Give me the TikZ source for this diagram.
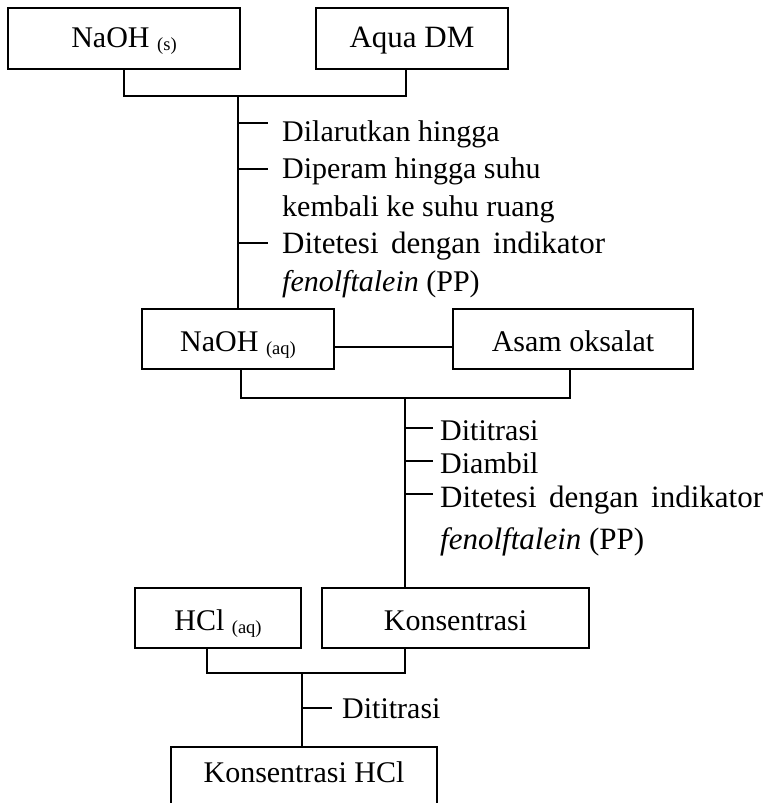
\documentclass[tikz,border=0pt]{standalone}
\usepackage{fontspec}
\setmainfont{Liberation Serif}
\newcommand\physst[1]{\raisebox{-3pt}{\fontsize{18.5}{20}\selectfont #1}}
\newcommand\widesp{\hspace{12.5pt}}
\begin{document}
\begin{tikzpicture}[x=1pt,y=-1pt,
  ln/.style={line width=1.1pt},
  box/.style={draw, line width=1.1pt, inner sep=0pt, text depth=0pt, font=\fontsize{30}{36}\selectfont},
  lbl/.style={anchor=base west, inner sep=0pt, font=\fontsize{30}{36}\selectfont},
  lblw/.style={lbl, font=\fontsize{31}{36}\selectfont}]
\useasboundingbox (0,0) rectangle (764,803);
\clip (0,0) rectangle (764,803);

% boxes
\node[box, minimum width=232pt, minimum height=61pt, text height=17pt] (naohs) at (124,38.5) {NaOH \physst{(s)}};
\node[box, minimum width=192pt, minimum height=61pt, text height=17pt, font=\fontsize{31}{36}\selectfont] (aqua) at (412,38.5) {Aqua DM};
\node[box, minimum width=192pt, minimum height=60pt, text height=24pt] (naohaq) at (238,339) {NaOH \physst{(aq)}};
\node[box, minimum width=240pt, minimum height=60pt, text height=24pt] (oks) at (573,339) {Asam oksalat};
\node[box, minimum width=166pt, minimum height=60pt, text height=24pt] (hcl) at (218,618) {HCl \physst{(aq)}};
\node[box, minimum width=267pt, minimum height=60pt, text height=24pt] (kons) at (455.5,618) {Konsentrasi};
\node[box, minimum width=266pt, minimum height=65pt, text height=5pt] (konshcl) at (304,779.5) {Konsentrasi HCl};

% bracket 1
\coordinate (b1a) at (124,96);
\coordinate (b1b) at (406,96);
\coordinate (v1) at (238,96);
\draw[ln] (naohs.south) -- (b1a) -- (b1b) -- (b1b |- aqua.south);
\draw[ln] (v1) -- (naohaq.north);
\coordinate (t1a) at (238,123); \coordinate (t1b) at (268,123);
\coordinate (t2a) at (238,169); \coordinate (t2b) at (268,169);
\coordinate (t3a) at (238,243); \coordinate (t3b) at (268,243);
\draw[ln] (t1a) -- (t1b);
\draw[ln] (t2a) -- (t2b);
\draw[ln] (t3a) -- (t3b);
\node[lbl] (l1) at (282,141) {Dilarutkan hingga};
\node[lbl] (l2) at (282,178.5) {Diperam hingga suhu};
\node[lbl] (l3) at (282,216) {kembali ke suhu ruang};
\node[lblw] (l4) at (282,253.5) {Ditetesi\widesp dengan\widesp indikator};
\node[lbl] (l5) at (282,291) {\textit{fenolftalein} (PP)};

% link between NaOH(aq) and Asam oksalat
\coordinate (hy) at (0,347);
\draw[ln] (naohaq.east |- hy) -- (oks.west |- hy);

% bracket 2
\coordinate (b2a) at (241,398);
\coordinate (b2b) at (570,398);
\coordinate (v2) at (405,398);
\draw[ln] (b2a |- naohaq.south) -- (b2a) -- (b2b) -- (b2b |- oks.south);
\draw[ln] (v2) -- (v2 |- kons.north);
\coordinate (s1a) at (405,428); \coordinate (s1b) at (433,428);
\coordinate (s2a) at (405,461); \coordinate (s2b) at (433,461);
\coordinate (s3a) at (405,494); \coordinate (s3b) at (433,494);
\draw[ln] (s1a) -- (s1b);
\draw[ln] (s2a) -- (s2b);
\draw[ln] (s3a) -- (s3b);
\node[lbl] (m1) at (440,440) {Dititrasi};
\node[lbl] (m2) at (440,473) {Diambil};
\node[lblw] (m3) at (440,507) {Ditetesi\widesp dengan\widesp indikator};
\node[lblw] (m4) at (440,549) {\textit{fenolftalein} (PP)};

% bracket 3
\coordinate (b3a) at (207,673);
\coordinate (b3b) at (405,673);
\coordinate (v3) at (302,673);
\draw[ln] (b3a |- hcl.south) -- (b3a) -- (b3b) -- (b3b |- kons.south);
\draw[ln] (v3) -- (v3 |- konshcl.north);
\coordinate (r1a) at (302,708); \coordinate (r1b) at (332,708);
\draw[ln] (r1a) -- (r1b);
\node[lbl] (n1) at (342,718) {Dititrasi};
\end{tikzpicture}
\end{document}
